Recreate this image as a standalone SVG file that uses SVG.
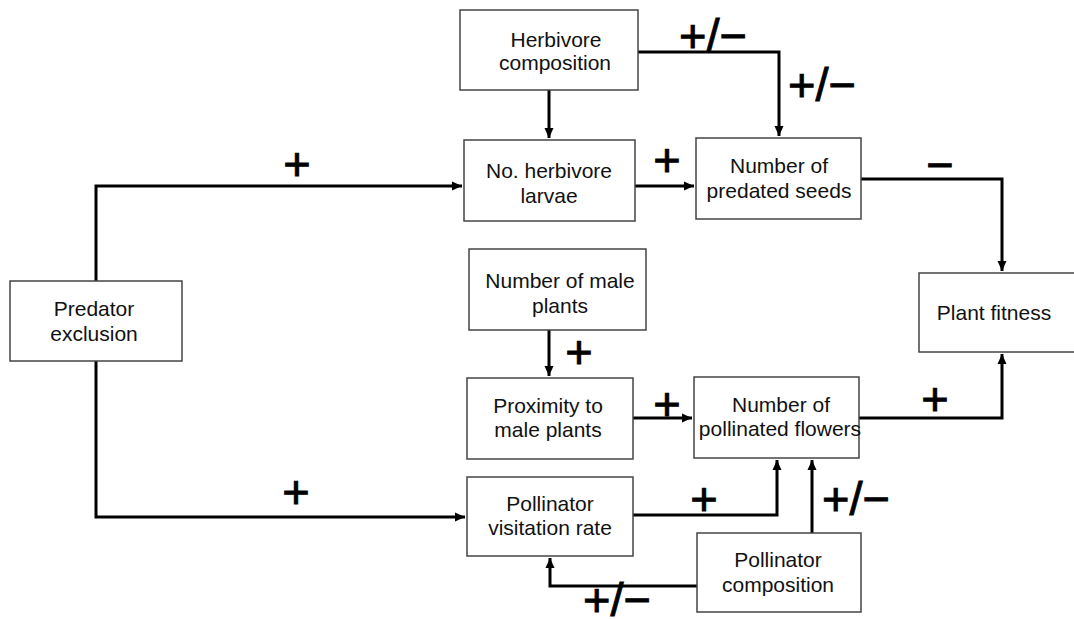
<svg xmlns="http://www.w3.org/2000/svg" width="1074" height="619" viewBox="0 0 1074 619">
<defs>
<marker id="ah" markerUnits="userSpaceOnUse" markerWidth="12" markerHeight="10" refX="10" refY="5" orient="auto">
<path d="M0,0.5 L10,5 L0,9.5 Z" fill="#000"/>
</marker>
<style>
.box{fill:#fff;stroke:#444;stroke-width:1.5}
.t{font-family:"Liberation Sans",Arial,sans-serif;font-size:21px;fill:#111;text-anchor:middle}
.c{fill:none;stroke:#000;stroke-width:3}
.a{marker-end:url(#ah)}
.s{font-family:"Liberation Sans",Arial,sans-serif;font-size:47px;fill:#000;stroke:#000;stroke-width:0.9;text-anchor:middle}
</style>
</defs>
<rect width="1074" height="619" fill="#fff"/>
<g id="connectors">
<polyline class="c a" points="96,281 96,186 462,186"/>
<polyline class="c a" points="96,361 96,517 465,517"/>
<polyline class="c a" points="549,90 549,138"/>
<polyline class="c a" points="638,52 779,52 779,136"/>
<polyline class="c a" points="635,186 694,186"/>
<polyline class="c a" points="861,179 1002,179 1002,271"/>
<polyline class="c a" points="549,330 549,376"/>
<polyline class="c a" points="633,418 692,418"/>
<polyline class="c a" points="633,515 777,515 777,460"/>
<polyline class="c a" points="812,533 812,460"/>
<polyline class="c a" points="697,586 550,586 550,558"/>
<polyline class="c a" points="859,418 1002,418 1002,354"/>
</g>
<g id="labels">
<text class="s" x="713" y="52">+/−</text>
<text class="s" x="822" y="101">+/−</text>
<text class="s" x="667" y="176">+</text>
<text class="s" x="297" y="180">+</text>
<text class="s" x="296" y="508">+</text>
<text class="s" x="579" y="368">+</text>
<text class="s" x="667" y="420">+</text>
<text class="s" x="704" y="515">+</text>
<text class="s" x="856" y="515">+/−</text>
<text class="s" x="617" y="616">+/−</text>
<text class="s" x="940" y="181">−</text>
<text class="s" x="935" y="415">+</text>
</g>
<g id="herbivore-composition">
<rect class="box" x="460" y="10" width="178" height="80"/>
<text class="t" x="556" y="47">Herbivore</text>
<text class="t" x="555" y="70">composition</text>
</g>
<g id="herbivore-larvae">
<rect class="box" x="464" y="140" width="171" height="81"/>
<text class="t" x="549" y="178">No. herbivore</text>
<text class="t" x="549" y="203">larvae</text>
</g>
<g id="predated-seeds">
<rect class="box" x="696" y="138" width="165" height="81"/>
<text class="t" x="779" y="173">Number of</text>
<text class="t" x="779" y="198">predated seeds</text>
</g>
<g id="predator-exclusion">
<rect class="box" x="10" y="281" width="172" height="80"/>
<text class="t" x="94" y="316">Predator</text>
<text class="t" x="94" y="341">exclusion</text>
</g>
<g id="male-plants">
<rect class="box" x="469" y="249" width="177" height="81"/>
<text class="t" x="560" y="288">Number of male</text>
<text class="t" x="560" y="313">plants</text>
</g>
<g id="proximity">
<rect class="box" x="467" y="378" width="166" height="81"/>
<text class="t" x="548" y="413">Proximity to</text>
<text class="t" x="548" y="437">male plants</text>
</g>
<g id="pollinated-flowers">
<rect class="box" x="694" y="377" width="165" height="81"/>
<text class="t" x="781" y="412">Number of</text>
<text class="t" x="780" y="436">pollinated flowers</text>
</g>
<g id="visitation-rate">
<rect class="box" x="467" y="477" width="166" height="79"/>
<text class="t" x="550" y="511">Pollinator</text>
<text class="t" x="550" y="535">visitation rate</text>
</g>
<g id="pollinator-composition">
<rect class="box" x="697" y="533" width="164" height="79"/>
<text class="t" x="778" y="567">Pollinator</text>
<text class="t" x="778" y="592">composition</text>
</g>
<g id="plant-fitness">
<rect class="box" x="919" y="273" width="156" height="79"/>
<text class="t" x="994" y="320">Plant fitness</text>
</g>
</svg>
